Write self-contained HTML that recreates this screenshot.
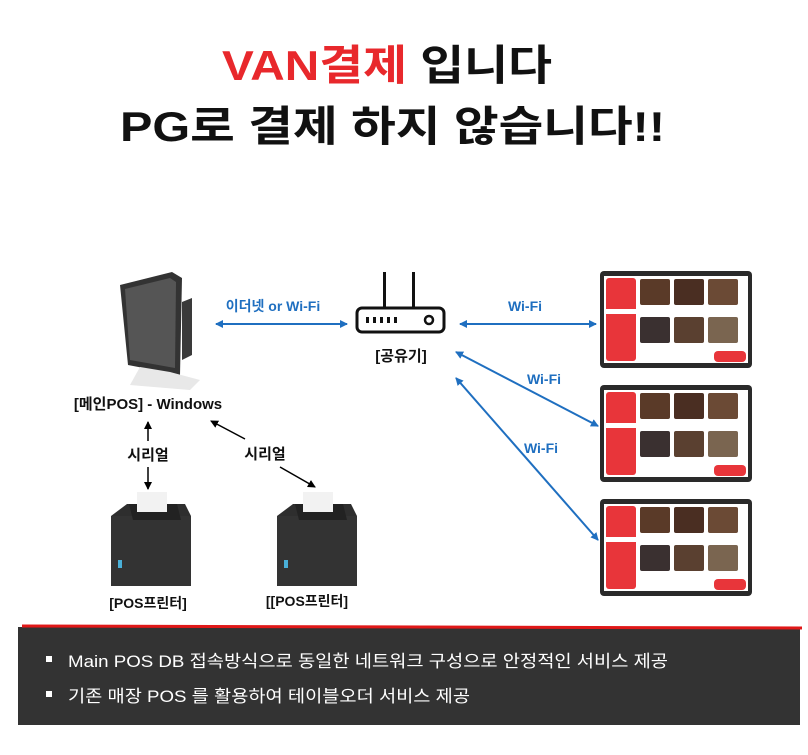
<!DOCTYPE html>
<html><head><meta charset="utf-8"><style>
body{margin:0;width:808px;height:750px;background:#fff;overflow:hidden}
text{font-family:"Liberation Sans","Noto Sans CJK KR","NanumGothic",sans-serif}
</style></head><body>
<svg width="808" height="750" xmlns="http://www.w3.org/2000/svg">
<defs>
<marker id="ab" markerWidth="8" markerHeight="8" refX="7" refY="4" orient="auto-start-reverse" markerUnits="userSpaceOnUse"><path d="M0,0 L8,4 L0,8 z" fill="#1f6fc0"/></marker>
<marker id="ak" markerWidth="8" markerHeight="8" refX="7" refY="4" orient="auto-start-reverse" markerUnits="userSpaceOnUse"><path d="M0,0 L8,4 L0,8 z" fill="#000"/></marker>
<g id="tab">
<rect x="0" y="0" width="152" height="97" rx="4" fill="#2a2a2a"/>
<rect x="4" y="5" width="144" height="87" fill="#fff"/>
<rect x="6" y="7" width="30" height="83" rx="3" fill="#e8353a"/>
<rect x="6" y="38" width="30" height="5" fill="#fff"/>
<rect x="40" y="8" width="30" height="26" rx="2" fill="#5a3a28"/>
<rect x="74" y="8" width="30" height="26" rx="2" fill="#4a2e22"/>
<rect x="108" y="8" width="30" height="26" rx="2" fill="#6b4a35"/>
<rect x="40" y="46" width="30" height="26" rx="2" fill="#3a3030"/>
<rect x="74" y="46" width="30" height="26" rx="2" fill="#5a4030"/>
<rect x="108" y="46" width="30" height="26" rx="2" fill="#7a6550"/>
<rect x="114" y="80" width="32" height="11" rx="4" fill="#e8353a"/>
</g>
<g id="prn">
<path d="M4,18 L20,6 L78,6 L84,18 L84,88 L4,88 z" fill="#2e2e2e"/>
<rect x="4" y="18" width="80" height="70" fill="#333"/>
<path d="M22,6 L70,6 L74,22 L26,22 z" fill="#222"/>
<rect x="30" y="-6" width="30" height="20" fill="#f2f2f2"/>
<rect x="11" y="62" width="4" height="8" fill="#4ab0d8"/>
</g>
</defs>

<text x="222" y="80" font-size="42" font-weight="bold" textLength="330" lengthAdjust="spacingAndGlyphs"><tspan fill="#e8282c">VAN결제</tspan><tspan fill="#111"> 입니다</tspan></text>
<text x="120" y="141" font-size="42" font-weight="bold" fill="#111" textLength="545" lengthAdjust="spacingAndGlyphs">PG로 결제 하지 않습니다!!</text>

<!-- POS -->
<path d="M120,285 L172,272 L182,278 L180,375 L128,365 z" fill="#333"/>
<path d="M125,289 L170,278 L176,282 L175,368 L130,360 z" fill="#555"/>
<path d="M182,302 L192,298 L192,355 L182,360 z" fill="#3a3a3a"/>
<path d="M140,367 L170,372 L200,380 L190,390 L130,385 z" fill="#e8e8e8"/>
<text x="148" y="409" text-anchor="middle" font-size="15" font-weight="bold" fill="#111">[메인POS] - Windows</text>

<!-- router -->
<rect x="383" y="272" width="3" height="38" fill="#111"/>
<rect x="412" y="272" width="3" height="38" fill="#111"/>
<rect x="357" y="308" width="87" height="24" rx="5" fill="#fff" stroke="#111" stroke-width="3"/>
<g fill="#111"><rect x="366" y="317" width="3" height="6"/><rect x="373" y="317" width="3" height="6"/><rect x="380" y="317" width="3" height="6"/><rect x="387" y="317" width="3" height="6"/><rect x="394" y="317" width="3" height="6"/></g>
<circle cx="429" cy="320" r="4" fill="none" stroke="#111" stroke-width="2.5"/>
<text x="401" y="361" text-anchor="middle" font-size="15" font-weight="bold" fill="#111">[공유기]</text>

<!-- blue connectors -->
<line x1="216" y1="324" x2="347" y2="324" stroke="#1f6fc0" stroke-width="2" marker-start="url(#ab)" marker-end="url(#ab)"/>
<text x="273" y="311" text-anchor="middle" font-size="14" font-weight="bold" fill="#1f6fc0">이더넷 or Wi-Fi</text>
<line x1="460" y1="324" x2="596" y2="324" stroke="#1f6fc0" stroke-width="2" marker-start="url(#ab)" marker-end="url(#ab)"/>
<text x="525" y="311" text-anchor="middle" font-size="14" font-weight="bold" fill="#1f6fc0">Wi-Fi</text>
<line x1="456" y1="352" x2="598" y2="426" stroke="#1f6fc0" stroke-width="2" marker-start="url(#ab)" marker-end="url(#ab)"/>
<text x="544" y="384" text-anchor="middle" font-size="14" font-weight="bold" fill="#1f6fc0">Wi-Fi</text>
<line x1="456" y1="378" x2="598" y2="540" stroke="#1f6fc0" stroke-width="2" marker-start="url(#ab)" marker-end="url(#ab)"/>
<text x="541" y="453" text-anchor="middle" font-size="14" font-weight="bold" fill="#1f6fc0">Wi-Fi</text>

<use href="#tab" x="600" y="271"/>
<use href="#tab" x="600" y="385"/>
<use href="#tab" x="600" y="499"/>

<!-- black connectors -->
<line x1="148" y1="422" x2="148" y2="441" stroke="#000" stroke-width="1.5" marker-start="url(#ak)"/>
<line x1="148" y1="467" x2="148" y2="489" stroke="#000" stroke-width="1.5" marker-end="url(#ak)"/>
<text x="148" y="460" text-anchor="middle" font-size="15" font-weight="bold" fill="#111">시리얼</text>
<line x1="211" y1="421" x2="245" y2="439" stroke="#000" stroke-width="1.5" marker-start="url(#ak)"/>
<line x1="280" y1="467" x2="315" y2="487" stroke="#000" stroke-width="1.5" marker-end="url(#ak)"/>
<text x="265" y="459" text-anchor="middle" font-size="15" font-weight="bold" fill="#111">시리얼</text>

<use href="#prn" x="107" y="498"/>
<use href="#prn" x="273" y="498"/>
<text x="148" y="608" text-anchor="middle" font-size="14" font-weight="bold" fill="#111">[POS프린터]</text>
<text x="307" y="606" text-anchor="middle" font-size="14" font-weight="bold" fill="#111">[[POS프린터]</text>

<!-- bottom box -->
<rect x="18" y="627" width="782" height="98" fill="#333"/>
<line x1="22" y1="626" x2="802" y2="628" stroke="#e01818" stroke-width="3"/>
<rect x="46" y="656" width="6" height="6" fill="#fff"/>
<rect x="46" y="691" width="6" height="6" fill="#fff"/>
<text x="68" y="667" font-size="17" fill="#fff" textLength="600" lengthAdjust="spacingAndGlyphs">Main POS DB 접속방식으로 동일한 네트워크 구성으로 안정적인 서비스 제공</text>
<text x="68" y="702" font-size="17" fill="#fff" textLength="402" lengthAdjust="spacingAndGlyphs">기존 매장 POS 를 활용하여 테이블오더 서비스 제공</text>
</svg>
</body></html>
